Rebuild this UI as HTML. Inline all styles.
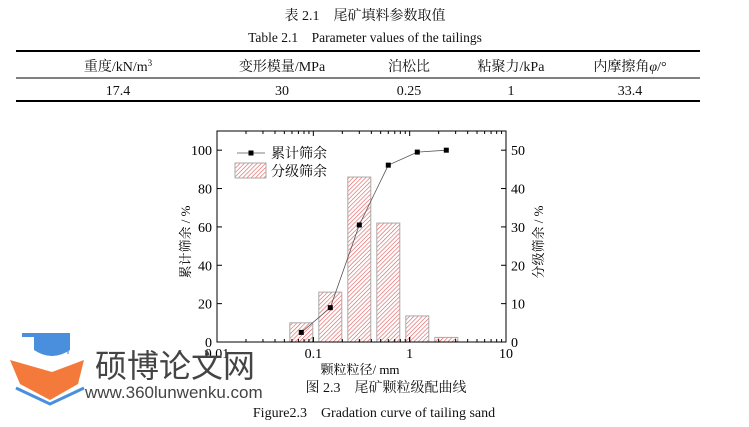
<!DOCTYPE html>
<html><head><meta charset="utf-8">
<style>
body{margin:0;width:749px;height:427px;background:#fff;overflow:hidden;font-family:"Liberation Serif","Noto Serif CJK SC",serif;}
svg{position:absolute;left:0;top:0}
</style></head>
<body>
<svg width="749" height="427">
<defs>
<pattern id="hatch" patternUnits="userSpaceOnUse" width="3" height="3" patternTransform="rotate(45)">
<rect width="3" height="3" fill="#fff"/><line x1="0" y1="0" x2="0" y2="3" stroke="#e05858" stroke-width="1.2"/>
</pattern>
</defs>
<g font-size="14" fill="#111">
<text x="365" y="20" text-anchor="middle">表 2.1　尾矿填料参数取值</text>
<text x="365" y="42" text-anchor="middle" font-size="13.5">Table 2.1　Parameter values of the tailings</text>
<line x1="16" y1="51" x2="700" y2="51" stroke="#000" stroke-width="2"/>
<line x1="16" y1="78" x2="700" y2="78" stroke="#000" stroke-width="1"/>
<line x1="16" y1="101" x2="700" y2="101" stroke="#000" stroke-width="2"/>
<text x="118" y="71" text-anchor="middle">重度/kN/m<tspan font-size="9" dy="-5">3</tspan></text>
<text x="282" y="71" text-anchor="middle">变形模量/MPa</text>
<text x="409" y="71" text-anchor="middle">泊松比</text>
<text x="511" y="71" text-anchor="middle">粘聚力/kPa</text>
<text x="630" y="71" text-anchor="middle">内摩擦角<tspan font-style="italic">φ</tspan>/°</text>
<text x="118" y="95" text-anchor="middle">17.4</text>
<text x="282" y="95" text-anchor="middle">30</text>
<text x="409" y="95" text-anchor="middle">0.25</text>
<text x="511" y="95" text-anchor="middle">1</text>
<text x="630" y="95" text-anchor="middle">33.4</text>
</g>
<g id="chart"></g>
<g fill="#111">
<text x="386" y="392" text-anchor="middle" font-size="14">图 2.3　尾矿颗粒级配曲线</text>
<text x="374" y="417" text-anchor="middle" font-size="14">Figure2.3　Gradation curve of tailing sand</text>
</g>
<g>
<path d="M34 335 L70 335 L70 350 Q52 362 34 350 Z" fill="#4a8fde"/>
<path d="M22 335 L70 335" stroke="#4a8fde" stroke-width="4"/>
<line x1="68" y1="336" x2="68" y2="354" stroke="#4a8fde" stroke-width="1.2"/>
<path d="M10 360 L52 372 L84 360 L78 384 L50 400 L20 384 Z" fill="#f47a3c"/>
<path d="M16 388 L50 404 L84 388" stroke="#4a8fde" stroke-width="3" fill="none"/>
<text x="95" y="377" font-family="'Noto Sans CJK SC',sans-serif" font-size="32" fill="#444">硕博论文网</text>
<text x="85" y="398" font-family="'Liberation Sans',sans-serif" font-size="17" fill="#444">www.360lunwenku.com</text>
</g>
</svg>
<script>
const sizes=[0.075,0.15,0.3,0.6,1.2,2.4];
const fractional=[5,13,43,31,6.8,1.2];
const cumulative=[5,17.9,61,92.2,99,100];
const leftTicks=[0,20,40,60,80,100];
const rightTicks=[0,10,20,30,40,50];
const xTicks=[0.01,0.1,1,10];
const xTickLabels=["0.01","0.1","1","10"];
const L=217,R=506,T=131,B=342;
const X=v=>L+(Math.log10(v)+2)/3*(R-L);
const YL=v=>B-v/110*(B-T);
const YR=v=>B-v/55*(B-T);
const NS="http://www.w3.org/2000/svg";
const g=document.getElementById('chart');
function mk(t,a,p){const e=document.createElementNS(NS,t);for(const k in a)e.setAttribute(k,a[k]);(p||g).appendChild(e);return e;}
fractional.forEach((v,i)=>{const cx=X(sizes[i]);
const r=mk('rect',{x:cx-11.5,y:YR(v),width:23,height:B-YR(v),fill:'url(#hatch)',stroke:'#aaa','stroke-width':1});

});
const pl=mk('polyline',{points:cumulative.map((v,i)=>X(sizes[i])+','+YL(v)).join(' '),fill:'none',stroke:'#555','stroke-width':0.8});


cumulative.forEach((v,i)=>{const p=mk('rect',{x:X(sizes[i])-2.5,y:YL(v)-2.5,width:5,height:5,fill:'#000'});

});
const fr=mk('rect',{x:L,y:T,width:R-L,height:B-T,fill:'none',stroke:'#000','stroke-width':1});


for(let d=-2;d<1;d++)for(let m=1;m<10;m++){const x=X(m*Math.pow(10,d));const len=m==1?5:3;
mk('line',{x1:x,y1:B,x2:x,y2:B-len,stroke:'#000'});mk('line',{x1:x,y1:T,x2:x,y2:T+len,stroke:'#000'});}
xTicks.forEach((v,i)=>{const x=X(v);mk('line',{x1:x,y1:B,x2:x,y2:B-5,stroke:'#000'});
const t=mk('text',{x:x,y:B+16,'text-anchor':'middle','font-size':14});t.textContent=xTickLabels[i];

});
leftTicks.forEach(v=>{const y=YL(v);mk('line',{x1:L,y1:y,x2:L+5,y2:y,stroke:'#000'});
const t=mk('text',{x:L-5,y:y+5,'text-anchor':'end','font-size':14});t.textContent=v;

});
rightTicks.forEach(v=>{const y=YR(v);mk('line',{x1:R,y1:y,x2:R-5,y2:y,stroke:'#000'});
const t=mk('text',{x:R+5,y:y+5,'font-size':14});t.textContent=v;

});
let t=mk('text',{x:360,y:374,'text-anchor':'middle','font-size':13});t.textContent='颗粒粒径/ mm';


t=mk('text',{x:0,y:0,'text-anchor':'middle','font-size':13,transform:'translate(190,242) rotate(-90)'});t.textContent='累计筛余 / %';


t=mk('text',{x:0,y:0,'text-anchor':'middle','font-size':13,transform:'translate(543,242) rotate(-90)'});t.textContent='分级筛余 / %';


mk('line',{x1:237,y1:153,x2:265,y2:153,stroke:'#555','stroke-width':0.8});
mk('rect',{x:248.5,y:150.5,width:5,height:5,fill:'#000'});
t=mk('text',{x:271,y:158,'font-size':14,'font-family':"'Noto Serif CJK SC',serif"});t.textContent='累计筛余';


mk('rect',{x:235,y:163,width:31,height:15,fill:'url(#hatch)',stroke:'#aaa'});
t=mk('text',{x:271,y:176,'font-size':14,'font-family':"'Noto Serif CJK SC',serif"});t.textContent='分级筛余';


</script>
</body></html>
